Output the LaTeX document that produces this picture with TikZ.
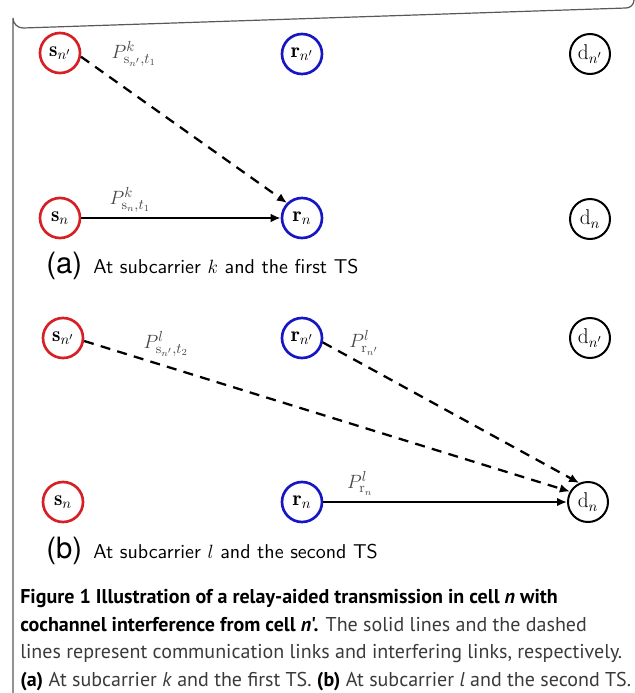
\documentclass[tikz,border=0pt]{standalone}
\usepackage{fontspec}
\newfontfamily\capfont{PT Sans}
\newfontfamily\helvfont{TeX Gyre Heros}
\newfontfamily\cmsans[Extension=.otf]{lmsans10-regular}
\usetikzlibrary{arrows.meta,positioning}
\definecolor{srcred}{RGB}{214,32,38}
\definecolor{relblue}{RGB}{22,22,196}
\definecolor{lblgray}{RGB}{72,72,72}
\definecolor{capgray}{RGB}{58,58,58}

\begin{document}
\begin{tikzpicture}[x=0.75pt,y=-0.75pt,
    station/.style={circle,draw,line width=2pt,minimum size=30pt,inner sep=0pt,
                    font=\fontsize{16}{18}\selectfont},
    src/.style={station,draw=srcred},
    relay/.style={station,draw=relblue},
    dst/.style={station,draw=black,line width=1.5pt},
    link/.style={-{Latex[length=7.5pt,width=6.5pt]},line width=1.7pt},
    interf/.style={link,dash pattern=on 7.5pt off 5.5pt},
    power/.style={text=lblgray,inner sep=0pt,font=\fontsize{15}{17}\selectfont},
    tag/.style={anchor=base west,inner sep=0pt,font=\helvfont\fontsize{22}{24}\selectfont},
    subcap/.style={anchor=base west,inner sep=0pt,font=\cmsans\fontsize{15}{17}\selectfont}
  ]
  \useasboundingbox (0,0) rectangle (635,693);

  % frame
  \draw[line width=0.9pt,black!65] (13,693) -- (13,18) arc[start angle=180,end angle=90,radius=10]
    -- (626,8) arc[start angle=90,end angle=0,radius=8];

  % (a) subcarrier k, first TS
  \node[src] (snpA) at (60,53) {$\mathbf{s}_{n'}$};
  \node[relay] (rnpA) at (302,54) {$\mathbf{r}_{n'}$};
  \node[dst] (dnpA) at (590,54) {$\mathrm{d}_{n'}$};
  \node[src] (snA) at (60,218) {$\mathbf{s}_{n}$};
  \node[relay] (rnA) at (302,218) {$\mathbf{r}_{n}$};
  \node[dst] (dnA) at (590,219) {$\mathrm{d}_{n}$};

  \draw[interf] (snpA.-10) -- (rnA.north west);
  \draw[link] (snA) -- (rnA);
  \node[power] (pA1) at (134,54) {$P^{k}_{\mathrm{s}_{n'},t_1}$};
  \node[power] (pA2) at (130,200) {$P^{k}_{\mathrm{s}_{n},t_1}$};

  \node[tag] (tagA) at (46,273) {(a)};
  \node[subcap] (capA) at (93,273) {At subcarrier $k$ and the first TS};

  % (b) subcarrier l, second TS
  \node[src] (snpB) at (63,338) {$\mathbf{s}_{n'}$};
  \node[relay] (rnpB) at (302,338) {$\mathbf{r}_{n'}$};
  \node[dst] (dnpB) at (590,338) {$\mathrm{d}_{n'}$};
  \node[src] (snB) at (63,502) {$\mathbf{s}_{n}$};
  \node[relay] (rnB) at (302,502) {$\mathbf{r}_{n}$};
  \node[dst] (dnB) at (588,502) {$\mathrm{d}_{n}$};

  \draw[interf] (snpB.-8) -- (dnB.150);
  \draw[interf] (rnpB.-12) -- (dnB.115);
  \draw[link] (rnB) -- (dnB);
  \node[power] (pB1) at (166,344) {$P^{l}_{\mathrm{s}_{n'},t_2}$};
  \node[power] (pB2) at (364,343) {$P^{l}_{\mathrm{r}_{n'}}$};
  \node[power] (pB3) at (360,483) {$P^{l}_{\mathrm{r}_{n}}$};

  \node[tag] (tagB) at (46,558) {(b)};
  \node[subcap] (capB) at (93,558) {At subcarrier $l$ and the second TS};

  % figure caption
  \node[anchor=north west,align=left,inner sep=0pt,text=capgray,
        font=\capfont\fontsize{15}{20.8}\selectfont] (figcap) at (20,589)
    {\textbf{\color{black}Figure 1 Illustration of a relay-aided transmission in cell \textit{n} with}\\
     \textbf{\color{black}cochannel interference from cell \textit{n}'.} The solid lines and the dashed\\
     lines represent communication links and interfering links, respectively.\\
     \textbf{\color{black}(a)} At subcarrier \textit{k} and the first TS. \textbf{\color{black}(b)} At subcarrier \textit{l} and the second TS.};
\end{tikzpicture}
\end{document}
